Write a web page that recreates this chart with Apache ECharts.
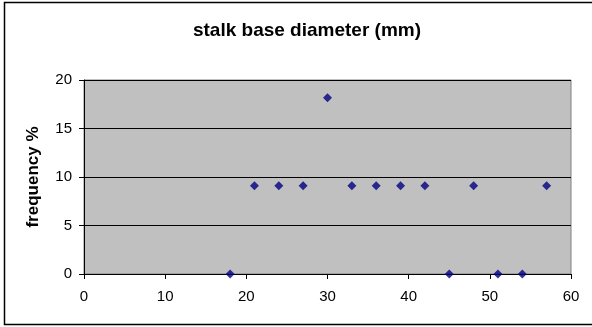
<!DOCTYPE html>
<html><head><meta charset="utf-8">
<script src="https://cdn.jsdelivr.net/npm/echarts@6/dist/echarts.min.js"></script>
<style>html,body{margin:0;padding:0;background:#fff}#c{width:592px;height:327px}</style>
</head><body><div id="c"></div>
<script>
const diameters = [18, 21, 24, 27, 30, 33, 36, 39, 42, 45, 48, 51, 54, 57];
const frequencies = [0, 9.09, 9.09, 9.09, 18.18, 9.09, 9.09, 9.09, 9.09, 0, 9.09, 0, 0, 9.09];
const titleText = 'stalk base diameter (mm)';
const yName = 'frequency %';

const chart = echarts.init(document.getElementById('c'), null, {renderer: 'canvas'});
chart.setOption({
  animation: false,
  backgroundColor: '#fff',
  graphic: [{type: 'rect', shape: {x: 4.5, y: 2.5, width: 600, height: 322}, style: {fill: 'none', stroke: '#000', lineWidth: 1.5}, z: -1}],
  title: {text: titleText, left: 302, top: 16, textAlign: 'center',
    textStyle: {fontFamily: 'Liberation Sans, Arial', fontSize: 19, fontWeight: 'bold', color: '#000'}},
  grid: {left: 84, right: 21, top: 80, bottom: 53, show: true, backgroundColor: '#c0c0c0', borderColor: '#808080', borderWidth: 1},
  xAxis: {type: 'value', min: 0, max: 60, interval: 10,
    axisLine: {onZero: false, lineStyle: {color: '#000'}},
    axisTick: {show: true, length: 5, lineStyle: {color: '#000'}},
    splitLine: {show: false},
    axisLabel: {fontFamily: 'Liberation Sans, Arial', fontSize: 15, color: '#000', margin: 15}},
  yAxis: {type: 'value', min: 0, max: 20, interval: 5, name: yName, nameLocation: 'middle', nameGap: 42,
    nameTextStyle: {fontFamily: 'Liberation Sans, Arial', fontSize: 17, fontWeight: 'bold', color: '#000'},
    axisLine: {show: true, lineStyle: {color: '#000'}},
    axisTick: {show: true, length: 5, lineStyle: {color: '#000'}},
    splitLine: {show: true, lineStyle: {color: '#000', width: 1}},
    axisLabel: {fontFamily: 'Liberation Sans, Arial', fontSize: 15, color: '#000', margin: 12}},
  series: [{type: 'scatter', symbol: 'diamond', symbolSize: 9,
    itemStyle: {color: '#000080'},
    data: diameters.map((d, i) => [d, frequencies[i]])}]
});
</script></body></html>
